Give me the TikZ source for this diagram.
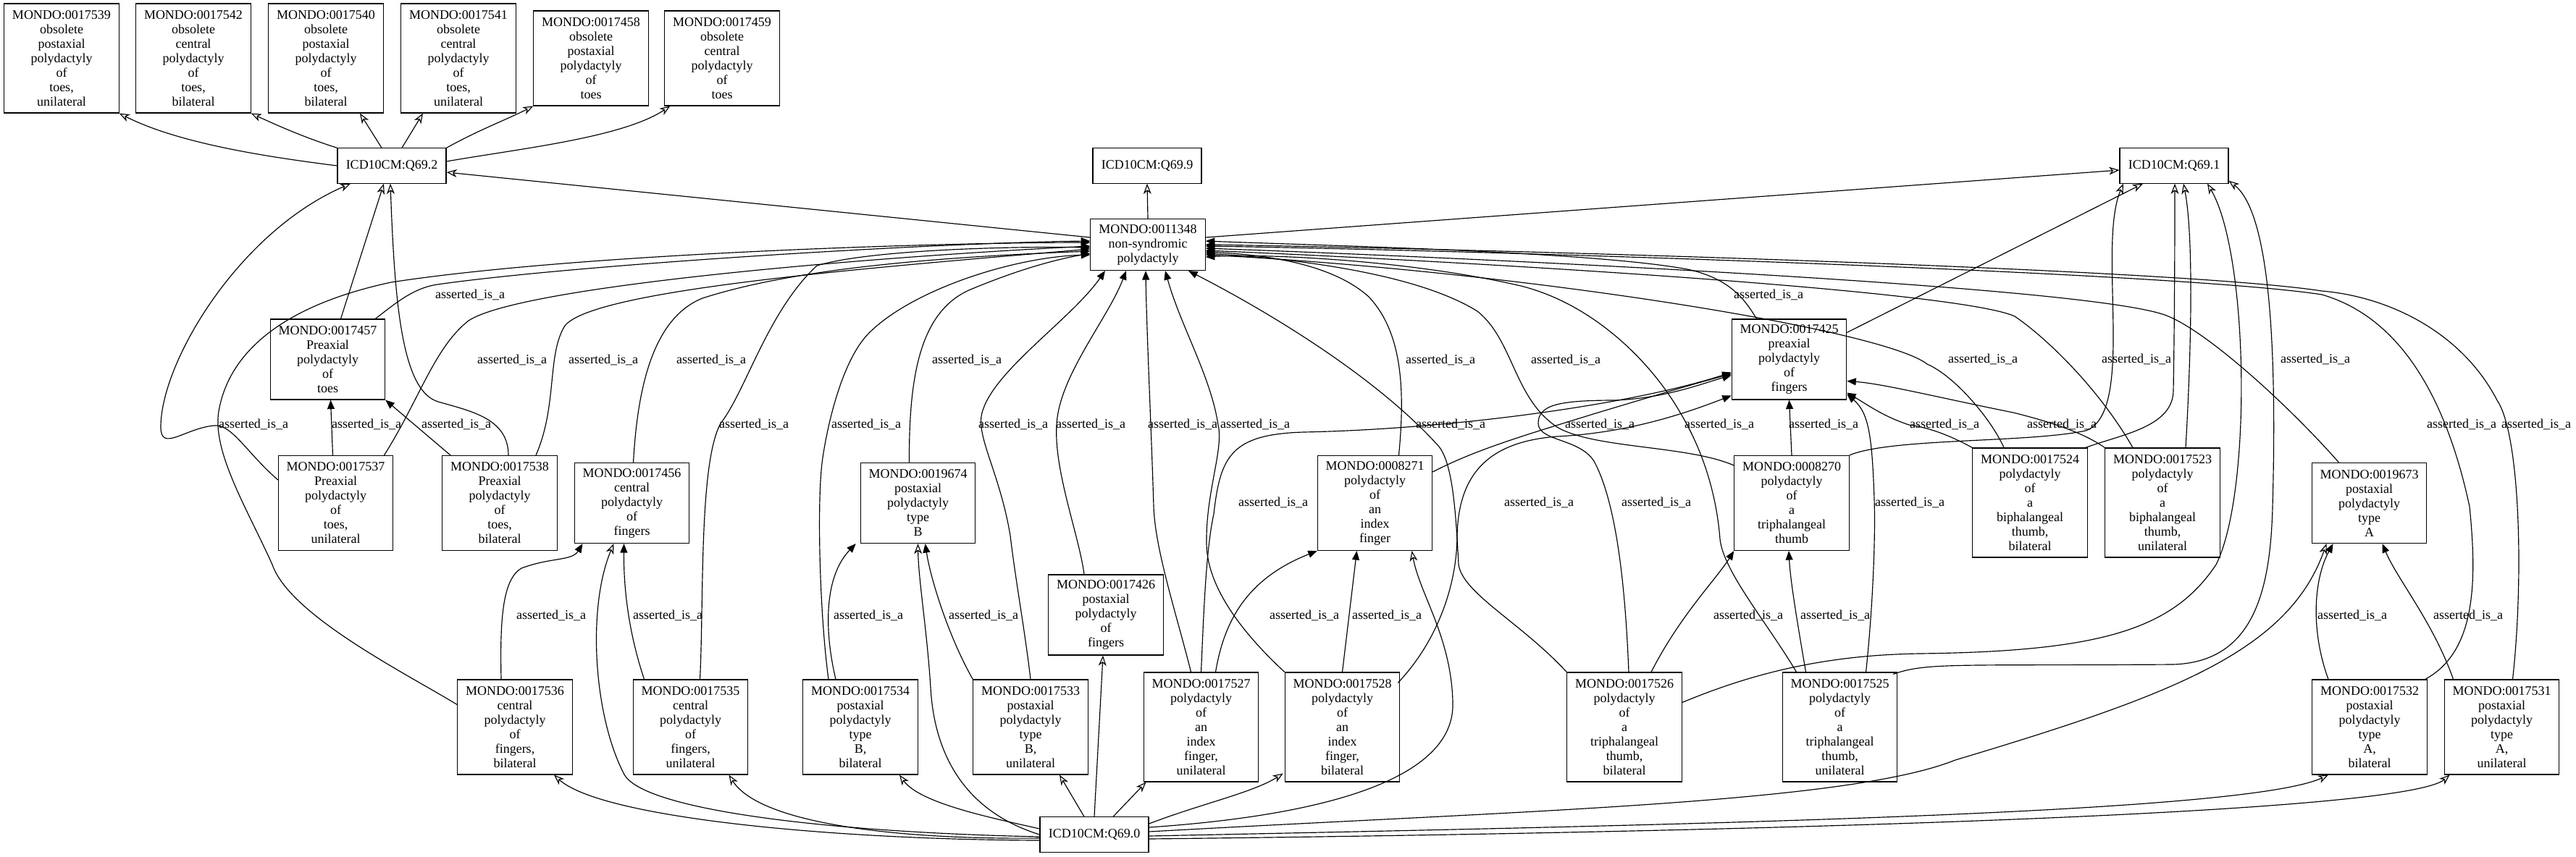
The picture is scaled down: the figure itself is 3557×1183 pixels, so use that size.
\documentclass[tikz,border=0pt]{standalone}
\usepackage{fontspec}
\setmainfont{Liberation Serif}
\usepackage{tikz}
\usetikzlibrary{arrows.meta}

\begin{document}
\begin{tikzpicture}[
  x=0.6pt, y=-0.6pt,
  mnode/.style={draw, line width=0.7pt, align=center, inner sep=1pt,
              minimum width=95pt, font=\fontsize{10.8}{12}\selectfont},
  inode/.style={mnode, minimum width=90pt, minimum height=29pt},
  lines7/.style={mnode, minimum height=90.6pt},
  lines6/.style={mnode, minimum height=78.6pt},
  lines5/.style={mnode, minimum height=66.6pt},
  lines3/.style={mnode, minimum height=42.6pt},
  lbl/.style={inner sep=0pt, font=\fontsize{10.8}{12}\selectfont},
  isa/.style={-{Triangle[length=7.5pt,width=6pt]}, line width=0.7pt},
  xref/.style={-{Stealth[open,length=8.5pt,width=6.5pt,inset=2.5pt]}, line width=0.7pt}
]
\useasboundingbox (0,0) rectangle (3557,1183);

\node[lines7] (n17539) at (85,80.5) {MONDO:0017539\\obsolete\\postaxial\\polydactyly\\of\\toes,\\unilateral};
\node[lines7] (n17542) at (267,80.5) {MONDO:0017542\\obsolete\\central\\polydactyly\\of\\toes,\\bilateral};
\node[lines7] (n17540) at (450,80.5) {MONDO:0017540\\obsolete\\postaxial\\polydactyly\\of\\toes,\\bilateral};
\node[lines7] (n17541) at (633,80.5) {MONDO:0017541\\obsolete\\central\\polydactyly\\of\\toes,\\unilateral};
\node[lines6] (n17458) at (816,80.5) {MONDO:0017458\\obsolete\\postaxial\\polydactyly\\of\\toes};
\node[lines6] (n17459) at (997,80.5) {MONDO:0017459\\obsolete\\central\\polydactyly\\of\\toes};
\node[inode] (q692) at (541,229) {ICD10CM:Q69.2};
\node[inode] (q699) at (1584,229) {ICD10CM:Q69.9};
\node[inode] (q691) at (3002,229) {ICD10CM:Q69.1};
\node[lines3] (n11348) at (1585,338) {MONDO:0011348\\non-syndromic\\polydactyly};
\node[lines5] (n17457) at (452.5,496.5) {MONDO:0017457\\Preaxial\\polydactyly\\of\\toes};
\node[lines5] (n17425) at (2470.5,496.5) {MONDO:0017425\\preaxial\\polydactyly\\of\\fingers};
\node[lines6] (n17537) at (463.5,695) {MONDO:0017537\\Preaxial\\polydactyly\\of\\toes,\\unilateral};
\node[lines6] (n17538) at (690,695) {MONDO:0017538\\Preaxial\\polydactyly\\of\\toes,\\bilateral};
\node[lines5] (n17456) at (872.5,695) {MONDO:0017456\\central\\polydactyly\\of\\fingers};
\node[lines5] (n19674) at (1267.5,695) {MONDO:0019674\\postaxial\\polydactyly\\type\\B};
\node[lines6] (n8271) at (1898.5,695) {MONDO:0008271\\polydactyly\\of\\an\\index\\finger};
\node[lines6] (n8270) at (2474,695) {MONDO:0008270\\polydactyly\\of\\a\\triphalangeal\\thumb};
\node[lines7] (n17524) at (2803,694.5) {MONDO:0017524\\polydactyly\\of\\a\\biphalangeal\\thumb,\\bilateral};
\node[lines7] (n17523) at (2986,694.5) {MONDO:0017523\\polydactyly\\of\\a\\biphalangeal\\thumb,\\unilateral};
\node[lines5] (n19673) at (3271.5,695) {MONDO:0019673\\postaxial\\polydactyly\\type\\A};
\node[lines5] (n17426) at (1527,849.5) {MONDO:0017426\\postaxial\\polydactyly\\of\\fingers};
\node[lines6] (n17536) at (711,1004.5) {MONDO:0017536\\central\\polydactyly\\of\\fingers,\\bilateral};
\node[lines6] (n17535) at (953.5,1004.5) {MONDO:0017535\\central\\polydactyly\\of\\fingers,\\unilateral};
\node[lines6] (n17534) at (1188,1004.5) {MONDO:0017534\\postaxial\\polydactyly\\type\\B,\\bilateral};
\node[lines6] (n17533) at (1423,1004.5) {MONDO:0017533\\postaxial\\polydactyly\\type\\B,\\unilateral};
\node[lines7] (n17527) at (1658.5,1004.5) {MONDO:0017527\\polydactyly\\of\\an\\index\\finger,\\unilateral};
\node[lines7] (n17528) at (1853.5,1004.5) {MONDO:0017528\\polydactyly\\of\\an\\index\\finger,\\bilateral};
\node[lines7] (n17526) at (2243,1004.5) {MONDO:0017526\\polydactyly\\of\\a\\triphalangeal\\thumb,\\bilateral};
\node[lines7] (n17525) at (2540.5,1004.5) {MONDO:0017525\\polydactyly\\of\\a\\triphalangeal\\thumb,\\unilateral};
\node[lines6] (n17532) at (3272,1004.5) {MONDO:0017532\\postaxial\\polydactyly\\type\\A,\\bilateral};
\node[lines6] (n17531) at (3454.5,1004.5) {MONDO:0017531\\postaxial\\polydactyly\\type\\A,\\unilateral};
\node[inode] (q690) at (1511,1153) {ICD10CM:Q69.0};

\node[lbl] (l7457x1348) at (649,407) {asserted\_is\_a};
\node[lbl] (l7425x1348) at (2442,407) {asserted\_is\_a};
\node[lbl] (l7537x1348) at (707,497) {asserted\_is\_a};
\node[lbl] (l7538x1348) at (833,497) {asserted\_is\_a};
\node[lbl] (l7456x1348) at (982,497) {asserted\_is\_a};
\node[lbl] (l9674x1348) at (1335,497) {asserted\_is\_a};
\node[lbl] (l8271x1348) at (1989,497) {asserted\_is\_a};
\node[lbl] (l8270x1348) at (2162,497) {asserted\_is\_a};
\node[lbl] (l7524x1348) at (2738,496) {asserted\_is\_a};
\node[lbl] (l7523x1348) at (2950,496) {asserted\_is\_a};
\node[lbl] (l9673x1348) at (3197,496) {asserted\_is\_a};
\node[lbl] (l7536x1348) at (350,586) {asserted\_is\_a};
\node[lbl] (l7537x7457) at (506,586) {asserted\_is\_a};
\node[lbl] (l7538x7457) at (630,586) {asserted\_is\_a};
\node[lbl] (l7535x1348) at (1041,586) {asserted\_is\_a};
\node[lbl] (l7534x1348) at (1196,586) {asserted\_is\_a};
\node[lbl] (l7533x1348) at (1399,586) {asserted\_is\_a};
\node[lbl] (l7426x1348) at (1506,586) {asserted\_is\_a};
\node[lbl] (l7527x1348) at (1633,586) {asserted\_is\_a};
\node[lbl] (l7528x1348) at (1733,586) {asserted\_is\_a};
\node[lbl] (l7526x1348) at (2003,586) {asserted\_is\_a};
\node[lbl] (l8271x7425) at (2209,586) {asserted\_is\_a};
\node[lbl] (l7525x1348) at (2374,586) {asserted\_is\_a};
\node[lbl] (l8270x7425) at (2518,586) {asserted\_is\_a};
\node[lbl] (l7524x7425) at (2685,586) {asserted\_is\_a};
\node[lbl] (l7523x7425) at (2847,586) {asserted\_is\_a};
\node[lbl] (l7532x1348) at (3399,586) {asserted\_is\_a};
\node[lbl] (l7531x1348) at (3502,586) {asserted\_is\_a};
\node[lbl] (l7527x7425) at (1758,694) {asserted\_is\_a};
\node[lbl] (l7528x7425) at (2125,694) {asserted\_is\_a};
\node[lbl] (l7526x7425) at (2287,694) {asserted\_is\_a};
\node[lbl] (l7525x7425) at (2637,694) {asserted\_is\_a};
\node[lbl] (l7536x7456) at (761,850) {asserted\_is\_a};
\node[lbl] (l7535x7456) at (922,850) {asserted\_is\_a};
\node[lbl] (l7534x9674) at (1199,850) {asserted\_is\_a};
\node[lbl] (l7533x9674) at (1358,850) {asserted\_is\_a};
\node[lbl] (l7527x8271) at (1801,850) {asserted\_is\_a};
\node[lbl] (l7528x8271) at (1915,850) {asserted\_is\_a};
\node[lbl] (l7526x8270) at (2414,850) {asserted\_is\_a};
\node[lbl] (l7525x8270) at (2534,850) {asserted\_is\_a};
\node[lbl] (l7532x9673) at (3248,850) {asserted\_is\_a};
\node[lbl] (l7531x9673) at (3408,850) {asserted\_is\_a};

\draw[xref] (q692.west) .. controls (380,218) and (250,200) .. (n17539.south east);
\draw[xref] (q692.north west) .. controls (420,190) and (380,172) .. (n17542.south east);
\draw[xref] ([shift={(-14,0)}]q692.north) -- ([shift={(47,0)}]n17540.south);
\draw[xref] ([shift={(14,0)}]q692.north) -- ([shift={(-49,0)}]n17541.south);
\draw[xref] (q692.north east) .. controls (660,180) and (700,165) .. (n17458.south west);
\draw[xref] ([shift={(0,-6)}]q692.east) .. controls (720,205) and (860,190) .. ([shift={(8,0)}]n17459.south west);
\draw[xref] (n11348.north) -- (q699.south);
\draw[xref] ([shift={(0,-10)}]n11348.west) -- ([shift={(0,9)}]q692.east);
\draw[xref] ([shift={(0,-10)}]n11348.east) -- ([shift={(0,6)}]q691.west);
\draw[xref] ([shift={(18,0)}]n17457.north) -- ([shift={(-11,0)}]q692.south);
\draw[xref] ([shift={(12,0)}]n17538.north) .. controls (702,578) and (650,568) .. (605,555) .. controls (555,540) and (545,420) .. ([shift={(-2,0)}]q692.south);
\draw[xref] ([shift={(0,-32)}]n17537.west) .. controls (340,625) and (320,585) .. (295,588) .. controls (255,592) and (222,625) .. (222,590) .. controls (222,500) and (330,320) .. ([shift={(-57,0)}]q692.south);
\draw[xref] ([shift={(0,19)}]n17425.north east) -- ([shift={(-43,0)}]q691.south);
\draw[xref] (n8270.north east) .. controls (2610,605) and (2800,612) .. (2880,595) .. controls (2950,570) and (2895,340) .. ([shift={(-70,0)}]q691.south);
\draw[xref] ([shift={(-3,0)}]n17524.north east) .. controls (2930,600) and (3000,590) .. (3001,540) .. controls (3003,420) and (3003,300) .. ([shift={(1,0)}]q691.south);
\draw[xref] ([shift={(32,0)}]n17523.north) .. controls (3025,500) and (3030,330) .. ([shift={(13,0)}]q691.south);
\draw[xref] ([shift={(0,-34)}]n17526.east) .. controls (2420,930) and (2520,905) .. (2650,903) .. controls (2900,900) and (3000,870) .. (3060,780) .. controls (3110,680) and (3105,350) .. ([shift={(46,0)}]q691.south);
\draw[xref] ([shift={(-6,3)}]n17525.north east) .. controls (2660,915) and (2700,920) .. (3000,918) .. controls (3110,915) and (3135,820) .. (3138,700) .. controls (3145,450) and (3130,290) .. ([shift={(0,-4)}]q691.south east);
\draw[xref] ([shift={(-14,0)}]q690.north) -- ([shift={(40,0)}]n17533.south);
\draw[xref] (q690.north) -- ([shift={(-4,0)}]n17426.south);
\draw[xref] ([shift={(26,0)}]q690.north) -- ([shift={(-76,0)}]n17527.south);
\draw[xref] ([shift={(0,-15)}]q690.east) .. controls (1660,1110) and (1730,1095) .. ([shift={(-2,-12)}]n17528.south west);
\draw[xref] ([shift={(0,-10)}]q690.east) .. controls (1850,1125) and (2010,1070) .. (2006,970) .. controls (2004,880) and (1960,820) .. ([shift={(51,0)}]n8271.south);
\draw[xref] ([shift={(0,-8)}]q690.west) .. controls (1370,1130) and (1270,1110) .. ([shift={(54,0)}]n17534.south);
\draw[xref] (q690.west) .. controls (1330,1120) and (1290,1040) .. (1285,950) .. controls (1280,870) and (1268,800) .. (n19674.south);
\draw[xref] ([shift={(0,5)}]q690.west) .. controls (1250,1160) and (1050,1140) .. ([shift={(53,0)}]n17535.south);
\draw[xref] ([shift={(0,8)}]q690.west) .. controls (1150,1160) and (830,1130) .. ([shift={(54,0)}]n17536.south);
\draw[xref] ([shift={(0,3)}]q690.west) .. controls (1150,1150) and (890,1120) .. (862,1070) .. controls (820,990) and (810,840) .. ([shift={(-25,0)}]n17456.south);
\draw[xref] ([shift={(0,-4)}]q690.east) .. controls (2100,1120) and (2550,1110) .. (2700,1050) .. controls (3000,960) and (3160,900) .. ([shift={(-59,0)}]n19673.south);
\draw[xref] ([shift={(0,2)}]q690.east) .. controls (2300,1140) and (3100,1125) .. ([shift={(-57,0)}]n17532.south);
\draw[xref] ([shift={(0,6)}]q690.east) .. controls (2400,1150) and (3320,1125) .. ([shift={(-72,0)}]n17531.south);

\draw[isa] ([shift={(-14,0)}]n17457.north east) .. controls (545,420) and (570,398) .. (604,393) .. controls (800,365) and (1300,335) .. ([shift={(0,-5)}]n11348.west);
\draw[isa] ([shift={(-45,0)}]n17425.north) .. controls (2410,415) and (2390,385) .. (2330,372) .. controls (2200,348) and (1850,340) .. ([shift={(0,-5)}]n11348.east);
\draw[isa] ([shift={(67,0)}]n17537.north) .. controls (580,550) and (600,480) .. (647,443) .. controls (720,395) and (1200,355) .. ([shift={(0,2)}]n11348.west);
\draw[isa] ([shift={(50,0)}]n17538.north) .. controls (770,560) and (755,490) .. (780,450) .. controls (820,400) and (1200,370) .. ([shift={(0,6)}]n11348.west);
\draw[isa] ([shift={(2,0)}]n17456.north) .. controls (880,540) and (900,440) .. (970,412) .. controls (1100,370) and (1300,355) .. ([shift={(0,9)}]n11348.west);
\draw[isa] ([shift={(-12,0)}]n19674.north) .. controls (1255,520) and (1270,430) .. (1340,400) .. controls (1400,375) and (1450,360) .. ([shift={(0,12)}]n11348.west);
\draw[isa] ([shift={(33,0)}]n8271.north) .. controls (1940,540) and (1937,460) .. (1890,410) .. controls (1840,365) and (1750,352) .. ([shift={(0,10)}]n11348.east);
\draw[isa] ([shift={(0,-52)}]n8270.west) .. controls (2330,615) and (2200,620) .. (2150,590) .. controls (2090,550) and (2090,470) .. (2040,430) .. controls (1960,380) and (1800,358) .. ([shift={(0,12)}]n11348.east);
\draw[isa] ([shift={(-36,0)}]n17524.north) .. controls (2750,580) and (2700,520) .. (2661,503) .. controls (2600,455) and (2100,375) .. ([shift={(0,14)}]n11348.east);
\draw[isa] ([shift={(-41,0)}]n17523.north) .. controls (2900,540) and (2830,470) .. (2782,437) .. controls (2700,400) and (2000,360) .. ([shift={(0,8)}]n11348.east);
\draw[isa] ([shift={(-42,0)}]n19673.north) .. controls (3160,560) and (3050,460) .. (2994,437) .. controls (2900,395) and (2000,355) .. ([shift={(0,5)}]n11348.east);
\draw[isa] ([shift={(-3,0)}]n17532.north east) .. controls (3420,900) and (3420,800) .. (3410,700) .. controls (3380,560) and (3320,440) .. (3206,407) .. controls (3000,375) and (2000,345) .. ([shift={(0,2)}]n11348.east);
\draw[isa] ([shift={(15,0)}]n17531.north) .. controls (3485,800) and (3480,600) .. (3448,553) .. controls (3400,460) and (3300,410) .. (3206,402) .. controls (3000,370) and (2000,343) .. (n11348.east);
\draw[isa] ([shift={(0,-31)}]n17536.west) .. controls (560,930) and (400,850) .. (376,780) .. controls (340,700) and (290,620) .. (303,563) .. controls (320,480) and (400,420) .. (540,390) .. controls (800,350) and (1300,335) .. ([shift={(0,-3)}]n11348.west);
\draw[isa] ([shift={(-4,0)}]n17537.north) -- ([shift={(4,0)}]n17457.south);
\draw[isa] ([shift={(-68,0)}]n17538.north) -- (n17457.south east);
\draw[isa] ([shift={(13,0)}]n17535.north) .. controls (972,830) and (965,640) .. (995,585) .. controls (1030,540) and (1060,430) .. (1128,367) .. controls (1200,345) and (1400,340) .. ([shift={(0,4)}]n11348.west);
\draw[isa] ([shift={(-44,0)}]n17534.north) .. controls (1132,850) and (1128,700) .. (1135,640) .. controls (1140,600) and (1160,500) .. (1200,460) .. controls (1260,400) and (1400,355) .. ([shift={(0,14)}]n11348.west);
\draw[isa] (n17533.north) .. controls (1415,870) and (1402,800) .. (1395,740) .. controls (1380,650) and (1345,600) .. (1357,567) .. controls (1375,510) and (1480,440) .. ([shift={(-59,0)}]n11348.south);
\draw[isa] ([shift={(-30,0)}]n17426.north) .. controls (1490,740) and (1455,650) .. (1459,587) .. controls (1462,520) and (1530,440) .. ([shift={(-30,0)}]n11348.south);
\draw[isa] ([shift={(-14,0)}]n17527.north) .. controls (1625,850) and (1595,760) .. (1593,700) .. controls (1590,600) and (1583,450) .. ([shift={(-3,0)}]n11348.south);
\draw[isa] (n17528.north west) .. controls (1700,860) and (1666,800) .. (1666,750) .. controls (1665,680) and (1690,620) .. (1682,587) .. controls (1672,520) and (1630,450) .. ([shift={(24,0)}]n11348.south);
\draw[isa] (n17526.north west) .. controls (2100,860) and (2020,820) .. (2014,780) .. controls (2010,700) and (2005,640) .. (1987,617) .. controls (1900,520) and (1750,430) .. ([shift={(56,0)}]n11348.south);
\draw[isa] ([shift={(0,-43)}]n8271.east) .. controls (2040,620) and (2110,600) .. (2200,572) .. controls (2280,548) and (2340,530) .. ([shift={(0,20)}]n17425.west);
\draw[isa] ([shift={(-60,0)}]n17525.north) .. controls (2440,860) and (2380,790) .. (2375,745) .. controls (2370,680) and (2350,620) .. (2320,570) .. controls (2280,500) and (2200,420) .. (2100,395) .. controls (1950,360) and (1750,350) .. ([shift={(0,17)}]n11348.east);
\draw[isa] (n8270.north) -- (n17425.south);
\draw[isa] (n17524.north west) .. controls (2690,600) and (2660,590) .. (2636,587) .. controls (2600,575) and (2580,560) .. ([shift={(0,46)}]n17425.east);
\draw[isa] (n17523.north west) .. controls (2880,600) and (2840,585) .. (2780,570) .. controls (2680,550) and (2600,530) .. ([shift={(0,30)}]n17425.east);
\draw[isa] (n17527.north) .. controls (1662,850) and (1665,760) .. (1676,710) .. controls (1685,630) and (1700,600) .. (1800,597) .. controls (2000,593) and (2250,560) .. ([shift={(0,18)}]n17425.west);
\draw[isa] ([shift={(-3,15)}]n17528.north east) .. controls (1990,880) and (2012,800) .. (2012,740) .. controls (2014,650) and (2060,610) .. (2150,603) .. controls (2250,598) and (2330,570) .. ([shift={(0,50)}]n17425.west);
\draw[isa] ([shift={(6,0)}]n17526.north) .. controls (2245,830) and (2235,700) .. (2201,637) .. controls (2180,605) and (2125,610) .. (2124,585) .. controls (2124,560) and (2150,553) .. (2230,553) .. controls (2300,550) and (2350,530) .. ([shift={(0,22)}]n17425.west);
\draw[isa] ([shift={(36,0)}]n17525.north) .. controls (2585,850) and (2590,750) .. (2588,690) .. controls (2585,600) and (2580,570) .. ([shift={(0,48)}]n17425.east);
\draw[isa] ([shift={(-19,0)}]n17536.north) .. controls (690,850) and (695,800) .. (720,785) .. controls (760,770) and (790,775) .. ([shift={(-68,0)}]n17456.south);
\draw[isa] ([shift={(-64,0)}]n17535.north) .. controls (870,880) and (861,820) .. ([shift={(-11,0)}]n17456.south);
\draw[isa] ([shift={(-34,0)}]n17534.north) .. controls (1140,880) and (1135,800) .. ([shift={(-6,0)}]n19674.south west);
\draw[isa] (n17533.north west) .. controls (1310,880) and (1285,800) .. ([shift={(10,0)}]n19674.south);
\draw[isa] ([shift={(20,0)}]n17527.north) .. controls (1690,860) and (1720,800) .. (n8271.south west);
\draw[isa] (n17528.north) -- ([shift={(-25,0)}]n8271.south);
\draw[isa] ([shift={(37,0)}]n17526.north) .. controls (2320,850) and (2370,800) .. (n8270.south west);
\draw[isa] ([shift={(-47,0)}]n17525.north) .. controls (2480,850) and (2472,800) .. ([shift={(-4,0)}]n8270.south);
\draw[isa] ([shift={(-57,0)}]n17532.north) .. controls (3190,870) and (3195,800) .. ([shift={(-50,0)}]n19673.south);
\draw[isa] ([shift={(-67,0)}]n17531.north) .. controls (3360,860) and (3310,800) .. ([shift={(18,0)}]n19673.south);
\end{tikzpicture}
\end{document}
